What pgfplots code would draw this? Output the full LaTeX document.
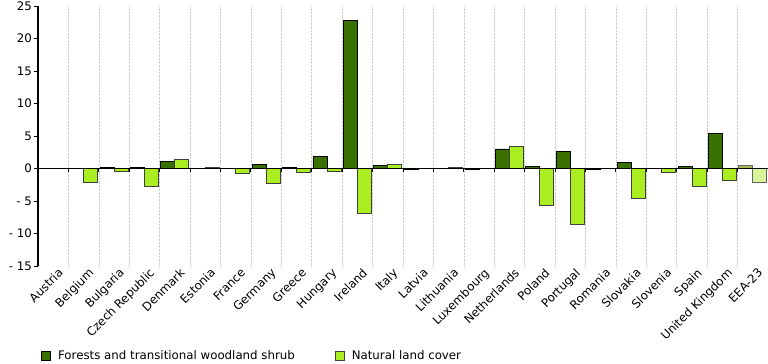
\documentclass[border=0pt]{standalone}
\usepackage{pgfplots}
\pgfplotsset{compat=1.18}
\usepackage{fontspec}
\setmainfont{DejaVu Sans}
\definecolor{forest}{HTML}{3A7000}
\definecolor{natural}{HTML}{AAEE22}
\definecolor{forestE}{HTML}{A8B855}
\definecolor{naturalE}{HTML}{D9F59A}
\definecolor{gridc}{HTML}{CCCCCC}
\pgfplotstableread{
idx dark light
0 0 0
1 0 -2.15
2 0.2 -0.5
3 0.15 -2.7
4 1.1 1.45
5 0 0.2
6 0 -0.7
7 0.6 -2.25
8 0.2 -0.6
9 1.85 -0.4
10 22.8 -6.9
11 0.4 0.65
12 -0.15 0
13 0 0.2
14 -0.2 0
15 3.0 3.4
16 0.3 -5.65
17 2.55 -8.65
18 -0.15 0
19 0.87 -4.65
20 0 -0.6
21 0.3 -2.75
22 5.45 -1.8
}\datatable
\pgfplotstableread{
idx dark light
23 0.5 -2.15
}\eeatable
\begin{document}
\fontsize{11.8bp}{13bp}\selectfont
\begin{tikzpicture}
\useasboundingbox (0,0) rectangle (768bp,364bp);
\begin{axis}[
  at={(38bp,98bp)}, anchor=south west,
  scale only axis, width=730bp, height=260bp,
  xmin=-0.5, xmax=23.5, ymin=-15, ymax=25,
  axis lines*=left,
  x axis line style={draw=none},
  y axis line style={black, line width=1.1bp},
  ytick={-15,-10,...,25},
  yticklabels={- 15,- 10,- 5,0,5,10,15,20,25},
  y tick style={black, line width=0.9bp},
  tick align=outside, major tick length=4bp,
  xtick={0,...,23},
  xticklabels={Austria,Belgium,Bulgaria,Czech Republic,Denmark,Estonia,France,Germany,Greece,Hungary,Ireland,Italy,Latvia,Lithuania,Luxembourg,Netherlands,Poland,Portugal,Romania,Slovakia,Slovenia,Spain,United Kingdom,EEA-23},
  x tick style={draw=none},
  minor xtick={-0.5,0.5,...,23.5},
  minor x tick style={draw=none},
  xminorgrids,
  minor x grid style={gridc, densely dotted, line width=0.6bp},
  tick label style={font=\fontsize{11.8bp}{13bp}\selectfont},
  xticklabel style={rotate=45, anchor=north east, inner sep=1bp, xshift=6bp},
  yticklabel style={inner sep=2bp},
  ybar, bar width=0.46,
  legend columns=2,
  legend style={draw=none, fill=none, at={(axis description cs:0,-0.346)}, anchor=west,
    font=\fontsize{11.8bp}{13bp}\selectfont,
    /tikz/every odd column/.append style={column sep=5bp},
    /tikz/every even column/.append style={column sep=38bp}},
  legend image code/.code={\draw[#1] (-1bp,-4.5bp) rectangle (8bp,4.5bp);},
]
\addplot[fill=forest, draw=black, line width=0.9bp, bar shift=-0.23] table[x=idx, y=dark] {\datatable};
\addlegendentry{Forests and transitional woodland shrub}
\addplot[fill=natural, draw=black!75, line width=0.9bp, bar shift=0.23] table[x=idx, y=light] {\datatable};
\addlegendentry{Natural land cover}
\addplot[fill=forestE, draw=black!60, line width=0.9bp, bar shift=-0.23, forget plot] table[x=idx, y=dark] {\eeatable};
\addplot[fill=naturalE, draw=black!60, line width=0.9bp, bar shift=0.23, forget plot] table[x=idx, y=light] {\eeatable};
\draw[black, line width=0.9bp] (axis cs:-0.5,0) -- (axis cs:23.5,0);
\pgfplotsinvokeforeach{0,...,24}{\draw[black, line width=0.9bp] (axis cs:#1-0.5,0) -- ([yshift=-4bp]axis cs:#1-0.5,0);}
\end{axis}
\end{tikzpicture}
\end{document}
